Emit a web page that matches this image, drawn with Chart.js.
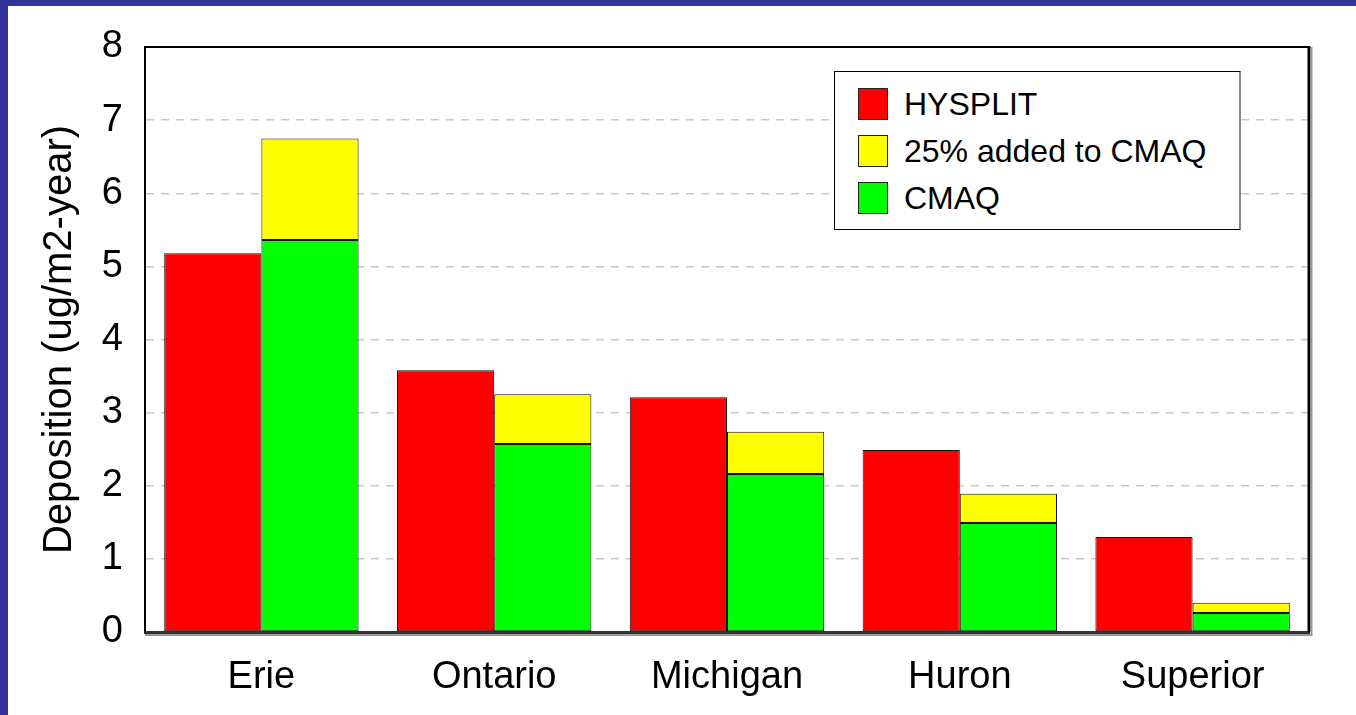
<!DOCTYPE html>
<html>
<head>
<meta charset="utf-8">
<script src="https://cdn.jsdelivr.net/npm/chart.js@4"></script>
<style>
    html, body { margin: 0; padding: 0; }
    body { background: #333399; width: 1356px; height: 715px; overflow: hidden; }
    .page { position: absolute; left: 8px; top: 6px; width: 1348px; height: 709px; background: #fff; }
    #myChart { position: absolute; left: 0; top: 0; }
    .legend-box {
        position: absolute; left: 826px; top: 65px; width: 404px; height: 157px;
        border: 1px solid #000; border-right: 2px solid #888; background: #fff;
        font-family: "Liberation Sans", Arial, sans-serif; font-size: 32px; color: #000;
    }
    .legend-row { position: absolute; left: 23px; height: 34px; display: flex; align-items: center; }
    .legend-sw { width: 30px; height: 32px; border: 1px solid #222; margin-right: 16px; box-sizing: border-box; }
</style>
</head>
<body>
<div class="page">
    <canvas id="myChart" width="1348" height="709"></canvas>
    <div class="legend-box" id="legend"></div>
</div>
<script>
const lakes = ["Erie", "Ontario", "Michigan", "Huron", "Superior"];
const hysplit = [5.18, 3.58, 3.21, 2.49, 1.30];
const cmaq = [5.36, 2.57, 2.16, 1.49, 0.26];
const added = [1.39, 0.68, 0.58, 0.40, 0.14];
const yTicks = [0, 1, 2, 3, 4, 5, 6, 7, 8];

const font = "'Liberation Sans', Arial, sans-serif";

// frame round the plot: thin top, heavy right, grey shadow right/bottom
const frame = {
    id: "frame",
    afterDraw(chart) {
        const { ctx, chartArea: a } = chart;
        ctx.save();
        ctx.strokeStyle = "#000";
        ctx.lineWidth = 2;
        ctx.beginPath();
        ctx.moveTo(a.left, a.top);
        ctx.lineTo(a.right, a.top);
        ctx.stroke();
        ctx.lineWidth = 3;
        ctx.beginPath();
        ctx.moveTo(a.right, a.top - 1);
        ctx.lineTo(a.right, a.bottom);
        ctx.stroke();
        ctx.strokeStyle = "#999";
        ctx.lineWidth = 2;
        ctx.beginPath();
        ctx.moveTo(a.right + 2.5, a.top);
        ctx.lineTo(a.right + 2.5, a.bottom + 3);
        ctx.lineTo(a.left, a.bottom + 3);
        ctx.stroke();
        ctx.restore();
    },
};

const ctx = document.getElementById("myChart").getContext("2d");
const chart = new Chart(ctx, {
    type: "bar",
    data: {
        labels: lakes,
        datasets: [
            { label: "HYSPLIT", data: hysplit, stack: "h", backgroundColor: "#ff0000" },
            { label: "CMAQ", data: cmaq, stack: "c", backgroundColor: "#00ff00" },
            { label: "25% added to CMAQ", data: added, stack: "c", backgroundColor: "#ffff00" },
        ],
    },
    options: {
        responsive: false,
        animation: false,
        devicePixelRatio: 1,
        layout: { padding: { left: 0, top: 41, right: 47, bottom: 0 } },
        datasets: {
            bar: { borderColor: "#111", borderWidth: 1, borderSkipped: false, categoryPercentage: 0.835, barPercentage: 1 },
        },
        plugins: { legend: { display: false }, tooltip: { enabled: false } },
        scales: {
            x: {
                stacked: true,
                grid: { display: false, drawTicks: false },
                border: { color: "#333", width: 3 },
                ticks: { color: "#000", font: { family: font, size: 38 }, padding: 23 },
                afterFit(s) {
                    s.height = 83;
                    s.paddingLeft = 0;
                    s.paddingRight = 0;
                },
            },
            y: {
                stacked: true,
                min: 0,
                max: 8,
                afterBuildTicks(s) { s.ticks = yTicks.map((v) => ({ value: v })); },
                grid: {
                    drawTicks: false,
                    color: (c) => (c.tick && (c.tick.value === 0 || c.tick.value === 8) ? "rgba(0,0,0,0)" : "#c8c8c8"),
                    lineWidth: 1.5,
                },
                border: { color: "#000", width: 2, dash: [8, 7] },
                ticks: { color: "#000", font: { family: font, size: 38 }, padding: 22 },
                title: { display: true, text: "Deposition (ug/m2-year)", color: "#000", font: { family: font, size: 40 }, padding: { top: 28, bottom: 0 } },
                afterFit(s) {
                    s.width = 137;
                    s.paddingTop = 0;
                    s.paddingBottom = 0;
                },
            },
        },
    },
    plugins: [frame],
});

// legend in the picture's order
const legendOrder = ["HYSPLIT", "25% added to CMAQ", "CMAQ"];
document.getElementById("legend").innerHTML = legendOrder
    .map((name, i) => {
        const ds = chart.data.datasets.find((d) => d.label === name);
        return `<div class="legend-row" style="top:${15 + i * 47}px">
            <div class="legend-sw" style="background:${ds.backgroundColor}"></div><span>${name}</span>
        </div>`;
    })
    .join("");
</script>
</body>
</html>
